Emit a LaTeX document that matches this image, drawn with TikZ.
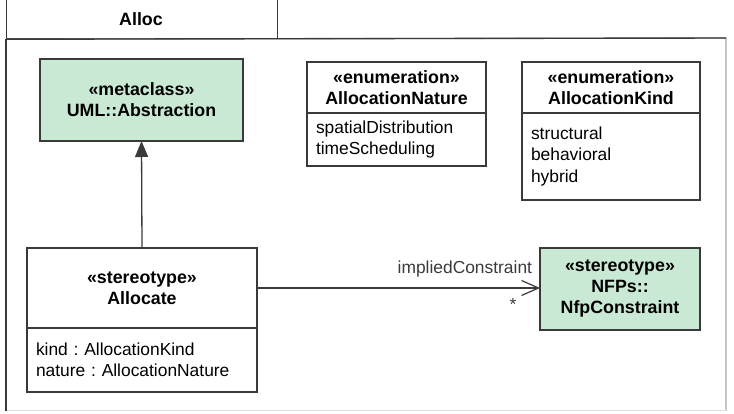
\documentclass[tikz,border=0pt]{standalone}
\usepackage{fontspec}
\setmainfont{Liberation Sans}
\usetikzlibrary{shapes,positioning,arrows.meta}
\definecolor{metagreen}{HTML}{C9E9D5}
\definecolor{umlline}{HTML}{3A3A3A}
\frenchspacing

\begin{document}
\begin{tikzpicture}[x=1pt,y=-1pt]
\tikzset{txt/.style = {font=\fontsize{17.4}{21.5}\selectfont}}
\tikzset{head/.style = {txt, draw=umlline, line width=1.3pt, outer sep=0pt, align=center, font=\fontsize{17.8}{21}\selectfont\bfseries}}
\tikzset{attrs/.style = {txt, draw=umlline, line width=1.3pt, outer sep=0pt, align=left, inner xsep=9pt}}
\tikzset{ext/.style = {-{Triangle[length=16pt,width=13pt]}, draw=umlline, line width=1.3pt}}
\tikzset{assoc/.style = {-{Straight Barb[length=17pt,width=15pt]}, draw=umlline, line width=1.2pt}}
\useasboundingbox (0,0) rectangle (734,414);

% package
\node[draw=umlline, line width=1.2pt, anchor=north west, minimum width=271pt, minimum height=48pt] (tab) at (6,-10) {};
\node[txt, font=\fontsize{17.8}{21}\selectfont\bfseries] (pkgname) at (141,19) {Alloc};
\draw[gray!70, line width=1.2pt] (tab.south west) -- (726,38) -- (726,410.5);
\draw[gray!25, line width=1.2pt] (726,410.5) -- (6,410.5);
\draw[umlline, line width=1.2pt] (tab.south west) -- (6,410.5);
\draw[umlline, line width=1.4pt] (tab.south west) -- (726,38);

% classes
\node[head, fill=metagreen, anchor=north west, minimum width=203pt, minimum height=82pt] (meta) at (40,59) {«metaclass»\\UML::Abstraction};

\node[head, anchor=north west, minimum width=179pt, minimum height=51pt] (nature) at (307,62) {«enumeration»\\AllocationNature};
\node[attrs, below=0pt of nature, minimum width=179pt, minimum height=53pt, text width=161pt] (natureattr) {spatialDistribution\\timeScheduling};

\node[head, anchor=north west, minimum width=178pt, minimum height=51pt] (kind) at (522,62) {«enumeration»\\AllocationKind};
\node[attrs, below=0pt of kind, minimum width=178pt, minimum height=87pt, text width=160pt] (kindattr) {structural\\behavioral\\hybrid};

\node[head, anchor=north west, minimum width=230pt, minimum height=80pt] (alloc) at (27,248) {«stereotype»\\Allocate};
\node[attrs, below=0pt of alloc, minimum width=230pt, minimum height=64pt, text width=212pt] (allocattr) {kind : AllocationKind\\nature : AllocationNature};

\node[head, fill=metagreen, anchor=north west, minimum width=160pt, minimum height=82pt] (nfp) at (540,248) {«stereotype»\\NFPs::\\NfpConstraint};

% connectors
\draw[ext] (alloc.north) -- (meta.south);
\draw[assoc] (alloc.east) -- (alloc.east -| nfp.west)
  node[txt, anchor=base east, xshift=-4pt, yshift=15pt, color=umlline] (role) {impliedConstraint}
  node[txt, anchor=base, xshift=-27pt, yshift=-23pt, color=umlline] (mult) {*};

\end{tikzpicture}
\end{document}
